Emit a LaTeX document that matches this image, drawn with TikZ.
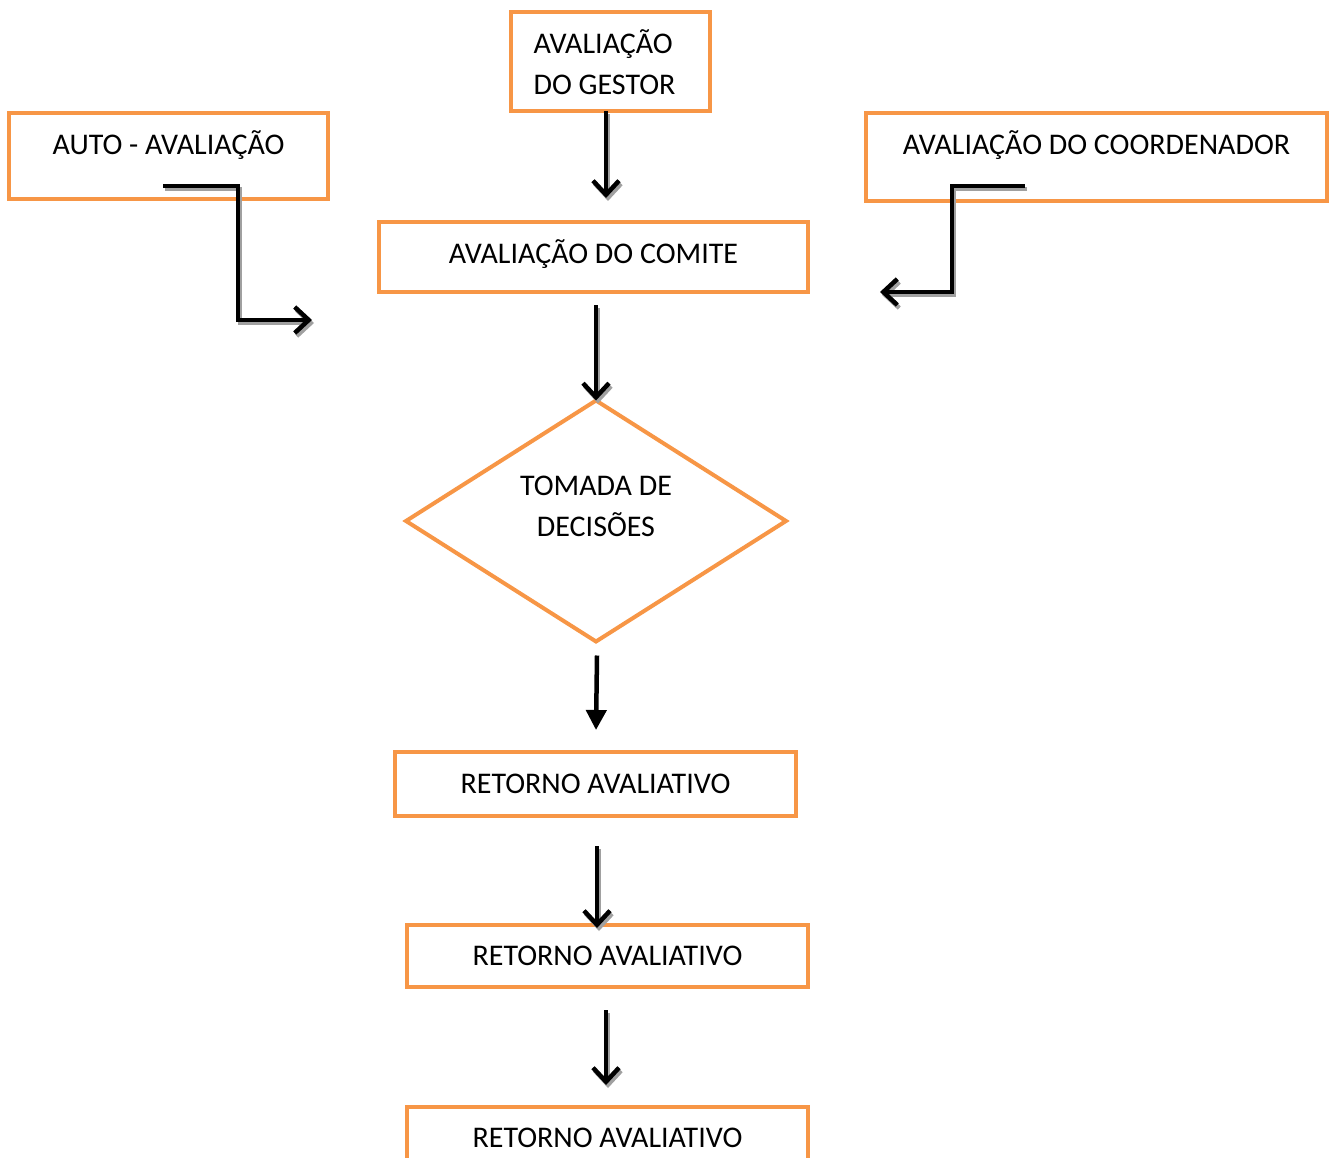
\documentclass[tikz,border=0pt]{standalone}
\usepackage{fontspec}
\setmainfont{Carlito}
\usetikzlibrary{shapes.geometric,arrows.meta,calc}
\definecolor{boxorange}{HTML}{F79646}
\definecolor{shadowgray}{HTML}{A0A0A0}
\begin{document}
\begin{tikzpicture}[x=1pt,y=-1pt,
  font=\fontsize{30}{41}\selectfont,
  box/.style={draw=boxorange, line width=4pt, rectangle, inner sep=0pt, outer sep=0pt, fill=white},
  diam/.style={draw=boxorange, line width=4pt, diamond, inner sep=0pt, outer sep=0pt},
  arr/.style={draw=black, line width=4.5pt, line join=miter, -{Straight Barb[length=14pt,width=26pt,line width=4.5pt]}},
  arrshadow/.style={draw=shadowgray, line width=4.5pt, line join=miter, -{Straight Barb[length=14pt,width=26pt,line width=4.5pt]}, transform canvas={xshift=2pt,yshift=-3pt}},
  solidarr/.style={draw=black, line width=4.5pt, -{Triangle[length=20pt,width=20pt]}},
  lbl/.style={font=\fontsize{30}{41}\selectfont}
]
\useasboundingbox (0,0) rectangle (1330,1158);

% nodes
\node[box, minimum width=199pt, minimum height=99pt,
  label={[lbl, align=left, xshift=-6pt, yshift=-1pt]center:AVALIAÇÃO\\DO GESTOR}] (gestor) at (610.5,61.5) {};
\node[box, minimum width=319pt, minimum height=86pt,
  label={[lbl, yshift=11pt]center:AUTO - AVALIAÇÃO}] (auto) at (168.5,156) {};
\node[box, minimum width=461pt, minimum height=88pt,
  label={[lbl, yshift=12pt]center:AVALIAÇÃO DO COORDENADOR}] (coord) at (1096.5,157) {};
\node[box, minimum width=429pt, minimum height=70pt,
  label={[lbl, yshift=3pt]center:AVALIAÇÃO DO COMITE}] (comite) at (593.5,257) {};
\node[diam, minimum width=380pt, minimum height=241pt,
  label={[lbl, align=center, yshift=15pt]center:TOMADA DE\\DECISÕES}] (dec) at (596,521) {};
\node[box, minimum width=401pt, minimum height=64pt,
  label={[lbl]center:RETORNO AVALIATIVO}] (r1) at (595.5,784) {};
\node[box, minimum width=401pt, minimum height=62pt,
  label={[lbl]center:RETORNO AVALIATIVO}] (r2) at (607.5,956) {};
\node[box, minimum width=401pt, minimum height=62pt,
  label={[lbl]center:RETORNO AVALIATIVO}] (r3) at (607.5,1138) {};

% connector end points
\coordinate (a1) at ($(auto.south)+(-5.5,-13)$);
\coordinate (a2) at (312,320);
\coordinate (c1) at ($(coord.south)+(-71.5,-15)$);
\coordinate (c2) at (880,292);
\coordinate (g1) at ($(gestor.south)+(-4.5,0)$);
\coordinate (g2) at ($(comite.north)+(12.5,-24)$);
\coordinate (m1) at ($(comite.south)+(2.5,13)$);
\coordinate (d1) at ($(dec.south)+(1,14)$);
\coordinate (d2) at ($(r1.north)+(0.5,-22)$);
\coordinate (e1) at ($(r1.south)+(1.5,30)$);
\coordinate (e2) at ($(r2.north)+(-10.5,3)$);
\coordinate (f1) at ($(r2.south)+(-1.5,23)$);
\coordinate (f2) at ($(r3.north)+(-1.5,-22)$);

% shadows
\draw[arrshadow] (a1) -- (238,186) |- (a2);
\draw[arrshadow] (c1) -- (952,186) |- (c2);
\draw[arrshadow] (g1) -- (g2);
\draw[arrshadow] (m1) -- (m1 |- dec.north);
\draw[arrshadow] (e1) -- (e2);
\draw[arrshadow] (f1) -- (f2);

% connectors
\draw[arr] (a1) -- (238,186) |- (a2);
\draw[arr] (c1) -- (952,186) |- (c2);
\draw[arr] (g1) -- (g2);
\draw[arr] (m1) -- (m1 |- dec.north);
\draw[solidarr] (d1) -- (d2);
\draw[arr] (e1) -- (e2);
\draw[arr] (f1) -- (f2);
\end{tikzpicture}
\end{document}
